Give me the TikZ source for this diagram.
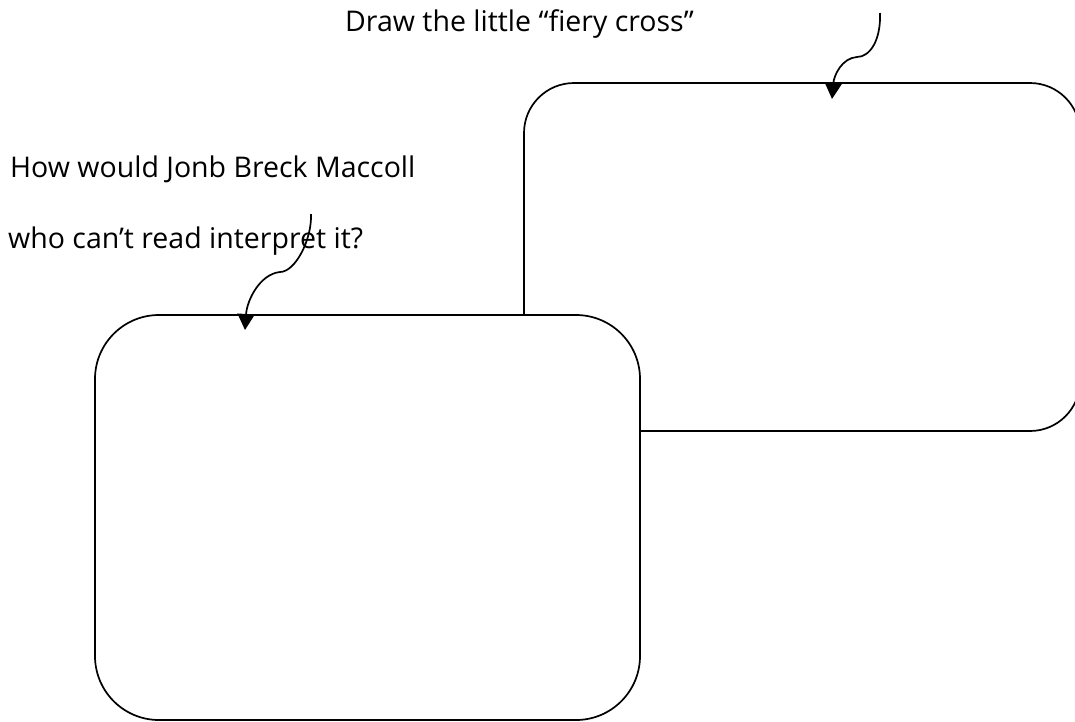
\documentclass[tikz,border=0pt]{standalone}
\usepackage{fontspec}
\setmainfont{Open Sans}
\usetikzlibrary{arrows.meta}
\begin{document}
\begin{tikzpicture}[x=1pt,y=-1pt,
  boxstyle/.style={draw=black,line width=1.7pt,fill=white},
  arrowstyle/.style={draw=black,line width=1.7pt,-{Triangle[length=16pt,width=17pt]}},
  labelstyle/.style={anchor=base west,inner sep=0pt,font=\fontsize{28.5}{32}\selectfont}]
\useasboundingbox (0,0) rectangle (1075,721);
% right box
\draw[boxstyle,rounded corners=50pt] (524,83) rectangle (1080,431);
% left box
\draw[boxstyle,rounded corners=64pt] (95,315) rectangle (640,720);
% labels
\node[labelstyle] (t1) at (345,31) {Draw the little “fiery cross”};
\node[labelstyle] (t2) at (10,177) {How would Jonb Breck Maccoll};
\node[labelstyle] (t3) at (8,248) {who can’t read interpret it?};
% arrows
\coordinate (a1s) at (880,13);
\coordinate (a1e) at (832,99);
\coordinate (a2s) at (311,214);
\coordinate (a2e) at (245,330);
\draw[arrowstyle] (a1s) .. controls (881,40) and (870,57) .. (857,57) .. controls (842,58) and (834,75) .. (a1e);
\draw[arrowstyle] (a2s) .. controls (312,240) and (295,272) .. (280,272) .. controls (260,274) and (247,300) .. (a2e);
\end{tikzpicture}
\end{document}
